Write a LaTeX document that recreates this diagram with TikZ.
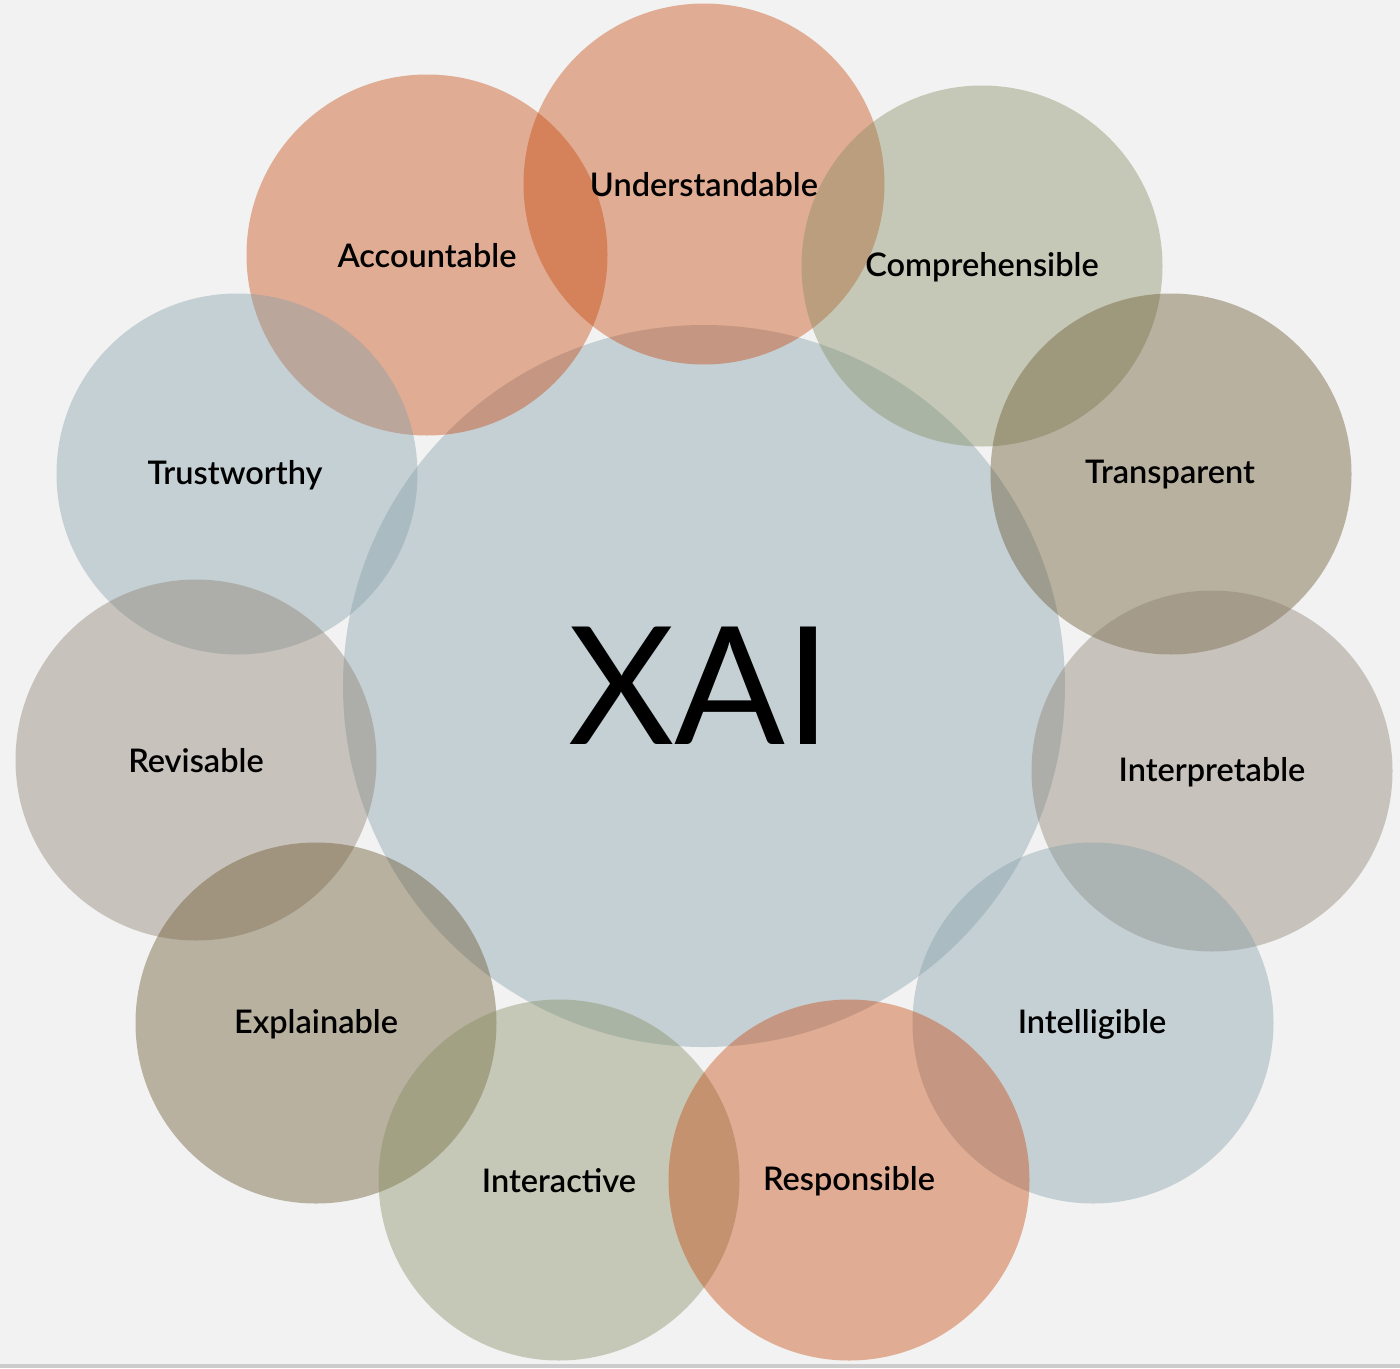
\documentclass[tikz,border=0pt]{standalone}
\usepackage{fontspec}
\setmainfont{Lato}
\newfontfamily\lblfont{Lato}[UprightFont={* Semibold}]
\begin{document}
\begin{tikzpicture}[x=1pt,y=-1pt,
  bub/.style={circle,minimum size=361pt,inner sep=0pt,fill opacity=0.4,text opacity=1},
  lbl/.style={font=\lblfont\fontsize{32.5}{36}\selectfont,text=black},
]
\definecolor{bgc}{RGB}{242,242,242}
\definecolor{cblue}{RGB}{130,157,167}
\definecolor{corange}{RGB}{197,67,7}
\definecolor{colive}{RGB}{130,139,92}
\definecolor{cbrown}{RGB}{100,80,37}
\definecolor{cgray}{RGB}{137,124,107}
\definecolor{cline}{RGB}{204,204,204}
\fill[bgc] (0,0) rectangle (1400,1368);
\useasboundingbox (0,0) rectangle (1400,1368);
\fill[cline] (0,1364) rectangle (1400,1368);
% central
\node[bub,minimum size=722pt,fill=cblue] (xai) at (704,686) {};
% outer circles
\node[bub,fill=corange] (und) at (704,184) {};
\node[bub,fill=corange] (acc) at (427,255) {};
\node[bub,fill=colive] (com) at (982,266) {};
\node[bub,fill=cblue] (tru) at (237,474) {};
\node[bub,fill=cbrown] (tra) at (1171,474) {};
\node[bub,fill=cgray] (rev) at (196,760) {};
\node[bub,fill=cgray] (int) at (1212,771) {};
\node[bub,fill=cbrown] (exp) at (316,1023) {};
\node[bub,fill=cblue] (itl) at (1093,1023) {};
\node[bub,fill=colive] (ita) at (559,1180) {};
\node[bub,fill=corange] (res) at (849,1180) {};
% labels
\node[font=\fontsize{164}{165}\selectfont] (xait) at (700,686) {XAI};
\node[lbl] (undt) at (704,185) {Understandable};
\node[lbl] (acct) at (427,256) {Accountable};
\node[lbl] (comt) at (982,267) {Comprehensible};
\node[lbl] (trut) at (235,475) {Trustworthy};
\node[lbl] (trat) at (1170,475) {Transparent};
\node[lbl] (revt) at (196,761) {Revisable};
\node[lbl] (intt) at (1212,772) {Interpretable};
\node[lbl] (expt) at (316,1024) {Explainable};
\node[lbl] (itlt) at (1092,1024) {Intelligible};
\node[lbl] (itat) at (559,1181) {Interactive};
\node[lbl] (rest) at (849,1181) {Responsible};
\end{tikzpicture}
\end{document}
